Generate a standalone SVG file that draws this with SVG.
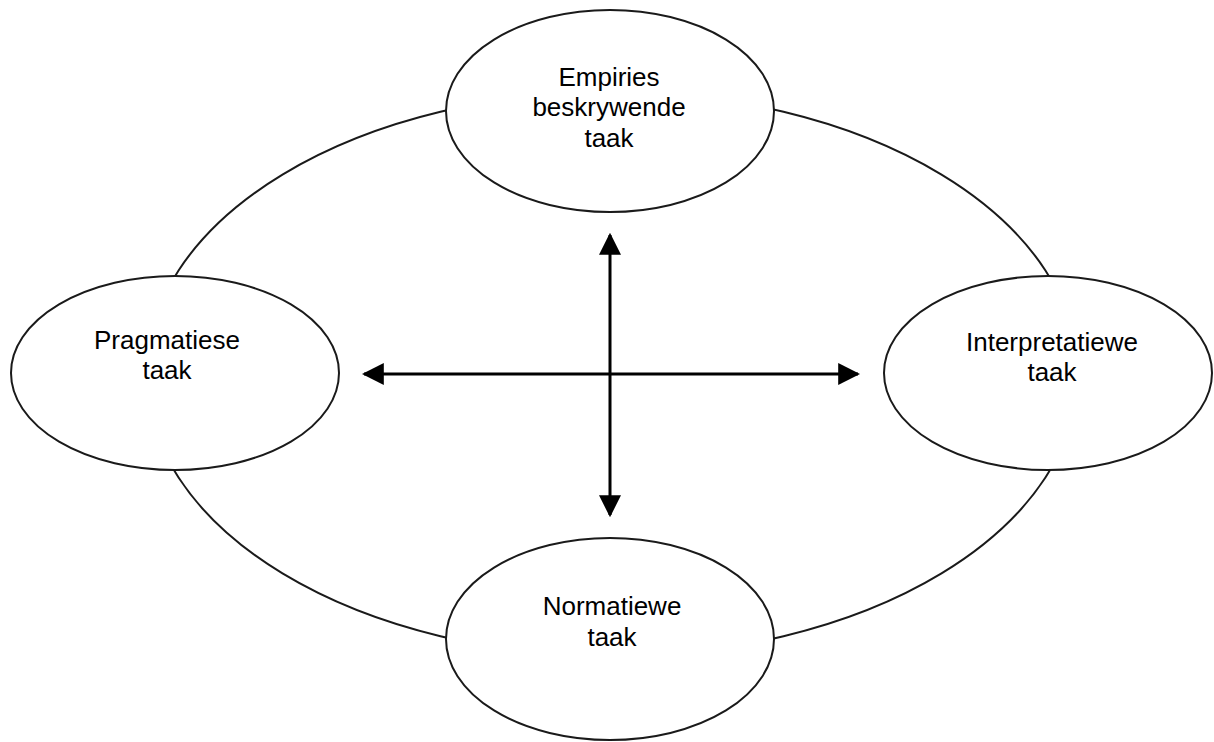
<svg xmlns="http://www.w3.org/2000/svg" width="1214" height="742" viewBox="0 0 1214 742">
<style>
.node{fill:#fff;stroke:#1a1a1a;stroke-width:2}
.ring{fill:none;stroke:#1a1a1a;stroke-width:2}
.lbl{font-family:"Liberation Sans",Arial,sans-serif;font-size:26px;fill:#000;text-anchor:middle}
.arr{stroke:#000;stroke-width:3;fill:none}
</style>
<defs>
<marker id="ah" viewBox="0 0 10 10" refX="9" refY="5" markerWidth="22" markerHeight="22" markerUnits="userSpaceOnUse" orient="auto-start-reverse">
<path d="M0,0 L10,5 L0,10 z" fill="#000"/>
</marker>
</defs>
<rect width="1214" height="742" fill="#fff"/>
<g id="connectors">
<ellipse class="ring" cx="612" cy="374" rx="466" ry="282"/>
<line class="arr" x1="610" y1="235" x2="610" y2="515" marker-start="url(#ah)" marker-end="url(#ah)"/>
<line class="arr" x1="364" y1="374" x2="858" y2="374" marker-start="url(#ah)" marker-end="url(#ah)"/>
</g>
<g id="node-top">
<ellipse class="node" cx="610" cy="111" rx="164" ry="101"/>
<text class="lbl" x="609" y="86">Empiries</text>
<text class="lbl" x="609" y="116">beskrywende</text>
<text class="lbl" x="609" y="147">taak</text>
</g>
<g id="node-left">
<ellipse class="node" cx="175" cy="373" rx="164" ry="97"/>
<text class="lbl" x="167" y="349">Pragmatiese</text>
<text class="lbl" x="167" y="379">taak</text>
</g>
<g id="node-right">
<ellipse class="node" cx="1048" cy="373" rx="164" ry="97"/>
<text class="lbl" x="1052" y="351">Interpretatiewe</text>
<text class="lbl" x="1052" y="381">taak</text>
</g>
<g id="node-bottom">
<ellipse class="node" cx="610" cy="639" rx="164" ry="101"/>
<text class="lbl" x="612" y="615">Normatiewe</text>
<text class="lbl" x="612" y="646">taak</text>
</g>
</svg>
